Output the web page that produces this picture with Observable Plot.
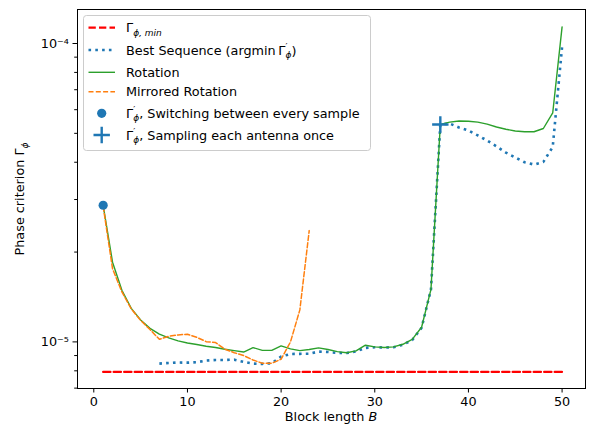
<!DOCTYPE html>
<html><head><meta charset="utf-8">
<script src="https://cdn.jsdelivr.net/npm/d3@7"></script>
<script src="https://cdn.jsdelivr.net/npm/@observablehq/plot@0.6"></script>
<style>body{margin:0;background:#fff}#chart{width:596px;height:431px}</style>
</head><body><div id="chart"></div>
<script>
// ---- data (values in units of 1e-6) ----
const blockAll = [1,2,3,4,5,6,7,8,9,10,11,12,13,14,15,16,17,18,19,20,21,22,23,24,25,26,27,28,29,30,31,32,33,34,35,36,37,38,39,40,41,42,43,44,45,46,47,48,49,50];
const rotation = [28.7,18.5,14.9,12.95,11.85,11.1,10.62,10.32,10.08,9.92,9.80,9.67,9.58,9.45,9.35,9.25,9.57,9.37,9.37,9.70,9.48,9.35,9.43,9.55,9.43,9.28,9.20,9.33,9.75,9.62,9.58,9.62,9.82,10.2,11.2,15.0,53.55,54.5,55.0,54.9,54.5,53.7,52.5,51.6,50.9,50.6,50.6,51.9,58.5,113.7];
const blockMirrored = [1,2,3,4,5,6,7,8,9,10,11,12,13,14,15,16,17,18,19,20,21,22,23];
const mirrored = [28.5,17.6,14.7,12.9,11.8,11.0,10.2,10.45,10.55,10.61,10.36,10.02,9.95,9.45,9.2,9.0,8.7,8.48,8.48,8.75,10.0,12.8,23.6];
const blockBest = [7,8,9,10,11,12,13,14,15,16,17,18,19,20,21,22,23,24,25,26,27,28,29,30,31,32,33,34,35,36,37,38,39,40,41,42,43,44,45,46,47,48,49,50];
const best = [8.46,8.50,8.53,8.52,8.55,8.66,8.70,8.70,8.72,8.57,8.46,8.44,8.48,8.93,9.11,9.12,9.13,9.28,9.25,9.19,9.18,9.29,9.55,9.60,9.57,9.60,9.78,10.15,11.15,15.0,53.55,53.9,52.3,51.1,49.2,47.3,45.2,43.1,41.5,40.0,39.3,40.1,45.0,97.5];
const blockMin = [1, 50];
const gammaMin = [7.93, 7.93];
const switchPoint = {B: 1, v: 28.7};
const samplePoint = {B: 37, v: 53.55};
const xTicks = [0,10,20,30,40,50];
const yMajor = [1e-5, 1e-4];
const yMajorLabels = ["10⁻⁵", "10⁻⁴"];
const yMinor = [7e-6,8e-6,9e-6,2e-5,3e-5,4e-5,5e-5,6e-5,7e-5,8e-5,9e-5];
const legendLabels = ["Γϕ,min", "Best Sequence (argmin Γ′ϕ)", "Rotation", "Mirrored Rotation", "Γ′ϕ, Switching between every sample", "Γ′ϕ, Sampling each antenna once"];

const C = {blue:"#1f77b4", orange:"#ff7f0e", green:"#2ca02c", red:"#ff0000"};
const toRows = (xs, vs) => xs.map((b,i) => ({B: b, v: vs[i]*1e-6}));
const rotRows = toRows(blockAll, rotation);
const mirRows = toRows(blockMirrored, mirrored);
const bestRows = toRows(blockBest, best);
const minRows = toRows(blockMin, gammaMin);

const plusSymbol = {draw(ctx, size){ const r = Math.sqrt(size/Math.PI); ctx.moveTo(-r,0); ctx.lineTo(r,0); ctx.moveTo(0,-r); ctx.lineTo(0,r); }};

const FS = 12.8;
const svg = Plot.plot({
  width: 596, height: 431,
  marginLeft: 77, marginRight: 11, marginTop: 9, marginBottom: 43,
  style: {fontFamily: "DejaVu Sans", fontSize: FS + "px", color: "black", background: "white", overflow: "visible"},
  x: {domain: [-1.74, 52.5], label: null},
  y: {type: "log", domain: [6.98e-6, 1.30e-4], label: null},
  marks: [
    Plot.line(minRows, {x: "B", y: "v", stroke: C.red, strokeWidth: 2.3, strokeDasharray: "7.3,3.2"}),
    Plot.line(bestRows, {x: "B", y: "v", stroke: C.blue, strokeWidth: 2.6, strokeDasharray: "2.6,4.2", strokeLinecap: "butt"}),
    Plot.line(rotRows, {x: "B", y: "v", stroke: C.green, strokeWidth: 1.4}),
    Plot.line(mirRows, {x: "B", y: "v", stroke: C.orange, strokeWidth: 1.5, strokeDasharray: "5,2.3"}),
    Plot.dot([switchPoint], {x: "B", y: d => d.v*1e-6, r: 4.6, fill: C.blue, stroke: "none"}),
    Plot.dot([samplePoint], {x: "B", y: d => d.v*1e-6, symbol: plusSymbol, r: 8.2, stroke: C.blue, strokeWidth: 2.4, fill: "none"}),
    Plot.frame({stroke: "black", strokeWidth: 1}),
    Plot.axisX({ticks: xTicks, tickSize: 4.5, tickPadding: 4, label: null, tickFormat: d => String(d)}),
    Plot.axisY({anchor: "left", ticks: yMajor, tickSize: 4.5, tickPadding: 4, label: null, tickFormat: d => yMajorLabels[yMajor.indexOf(d)]}),
    Plot.axisY({anchor: "left", ticks: yMinor, tickSize: 2.8, label: null, tickFormat: () => ""})
  ]
});
document.getElementById("chart").appendChild(svg);

const s = d3.select(svg);
function rich(g, x, y, parts, anchor) {
  const t = g.append("text").attr("x", x).attr("y", y).attr("fill", "black")
    .attr("font-family", "DejaVu Sans").attr("font-size", FS)
    .attr("text-anchor", anchor || "start");
  let cur = 0;
  for (const p of parts) {
    const off = p.off || 0;
    const ts = t.append("tspan").attr("dy", off - cur).text(p.t);
    if (p.dx) ts.attr("dx", p.dx);
    cur = off;
    if (p.size) ts.attr("font-size", p.size);
    if (p.it) ts.attr("font-style", "italic");
  }
  return t;
}
const SUB = 9;
// axis titles
rich(s, 331, 421, [{t: "Block length "}, {t: "B", it: true}], "middle");
const yl = s.append("g").attr("transform", "translate(24,199) rotate(-90)");
rich(yl, 0, 0, [{t: "Phase criterion Γ"}, {t: "ϕ", off: 3.5, size: SUB, it: true}], "middle");

// legend
const lg = s.append("g");
lg.append("rect").attr("x", 83.5).attr("y", 15.5).attr("width", 287).attr("height", 135).attr("rx", 3)
  .attr("fill", "white").attr("fill-opacity", 0.8).attr("stroke", "#cccccc").attr("stroke-width", 1);
const ys = [27.7, 50, 72.3, 91.7, 113.3, 135];
const hx0 = 88.5, hx1 = 115, tx = 126;
lg.append("line").attr("x1", hx0).attr("x2", hx1).attr("y1", ys[0]).attr("y2", ys[0]).attr("stroke", C.red).attr("stroke-width", 2.3).attr("stroke-dasharray", "7.3,3.2");
lg.append("line").attr("x1", hx0).attr("x2", hx1).attr("y1", ys[1]).attr("y2", ys[1]).attr("stroke", C.blue).attr("stroke-width", 2.6).attr("stroke-dasharray", "2.6,4.2");
lg.append("line").attr("x1", hx0).attr("x2", hx1).attr("y1", ys[2]).attr("y2", ys[2]).attr("stroke", C.green).attr("stroke-width", 1.4);
lg.append("line").attr("x1", hx0).attr("x2", hx1).attr("y1", ys[3]).attr("y2", ys[3]).attr("stroke", C.orange).attr("stroke-width", 1.5).attr("stroke-dasharray", "5,2.3");
lg.append("circle").attr("cx", 101.7).attr("cy", ys[4]).attr("r", 4.6).attr("fill", C.blue);
lg.append("path").attr("d", `M${101.7-8.2},${ys[5]}H${101.7+8.2}M101.7,${ys[5]-8.2}V${ys[5]+8.2}`).attr("stroke", C.blue).attr("stroke-width", 2.4).attr("fill", "none");
const b = 4.5;
rich(lg, tx, ys[0]+b, [{t: "Γ"}, {t: "ϕ,", off: 3.5, size: SUB, it: true}, {t: " min", off: 3.5, size: SUB, it: true}]);
rich(lg, tx, ys[1]+b, [{t: "Best Sequence (argmin\u2009Γ"}, {t: "′", off: -5, size: SUB}, {t: "ϕ", off: 3.5, size: SUB, it: true, dx: -2}, {t: ")", off: 0}]);
rich(lg, tx, ys[2]+b, [{t: legendLabels[2]}]);
rich(lg, tx, ys[3]+b, [{t: legendLabels[3]}]);
rich(lg, tx, ys[4]+b, [{t: "Γ"}, {t: "′", off: -5, size: SUB}, {t: "ϕ", off: 3.5, size: SUB, it: true, dx: -2}, {t: ", Switching between every sample", off: 0}]);
rich(lg, tx, ys[5]+b, [{t: "Γ"}, {t: "′", off: -5, size: SUB}, {t: "ϕ", off: 3.5, size: SUB, it: true, dx: -2}, {t: ", Sampling each antenna once", off: 0}]);
</script></body></html>
